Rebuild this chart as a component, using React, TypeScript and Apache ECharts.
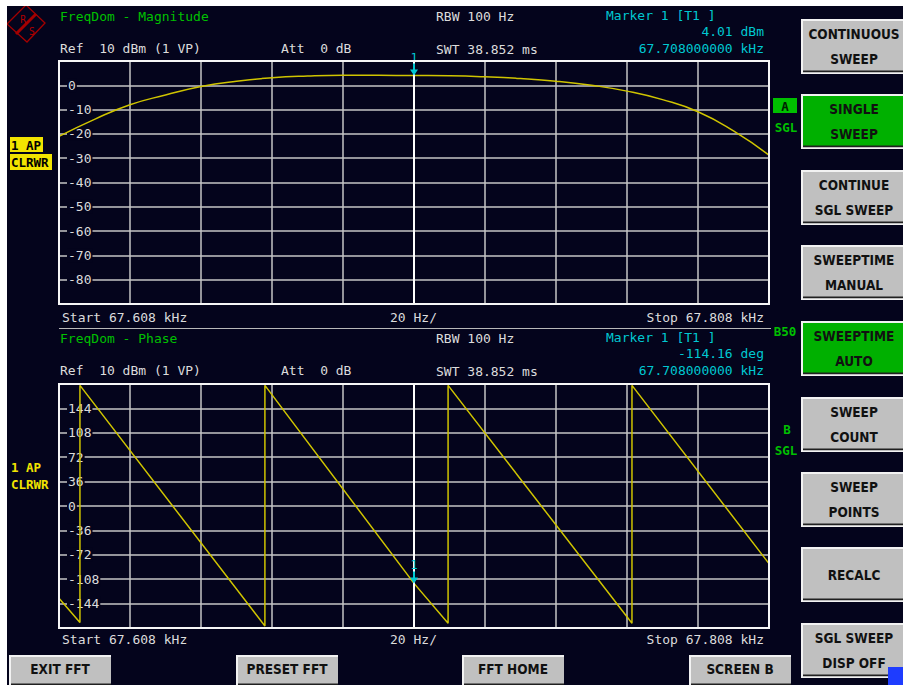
import { useEffect, useRef } from "react";
import * as echarts from "echarts";

// Sweep settings
const START_KHZ = 67.608;
const STOP_KHZ = 67.808;
const SPAN_HZ = 200;
const DIV_HZ = 20;
const MARKER_KHZ = 67.708;
const MARKER_DB = 4.01;
const MARKER_DEG = -114.16;

// Magnitude trace (dBm)
const MAG_FREQ_KHZ = [
  67.608, 67.618, 67.628, 67.638, 67.648, 67.658, 67.668, 67.678, 67.688, 67.698, 67.708,
  67.718, 67.728, 67.738, 67.748, 67.758, 67.768, 67.778, 67.788, 67.798, 67.808,
];
const MAG_DB = [
  -21, -14, -8, -4, -0.5, 1.7, 3.1, 3.8, 4.1, 4.1, 4.01,
  3.9, 3.5, 2.8, 1.7, 0, -2.4, -5.9, -10.9, -18.8, -28.7,
];

// Phase trace (deg), wrapping at +/-180
const PHASE_FREQ_KHZ = [
  67.608, 67.6139, 67.6139, 67.666, 67.666, 67.708, 67.7176, 67.7176, 67.7694, 67.7694, 67.808,
];
const PHASE_DEG = [-136, -172, 178, -177, 178, -114.16, -173, 178, -173, 178, -85];

// Tick labels printed inside the diagrams
const MAG_TICKS = [0, -10, -20, -30, -40, -50, -60, -70, -80];
const PHASE_TICKS = [144, 108, 72, 36, 0, -36, -72, -108, -144];

// Softkeys
const RIGHT_KEYS = [
  { lines: ["CONTINUOUS", "SWEEP"], top: 19, on: false },
  { lines: ["SINGLE", "SWEEP"], top: 94, on: true },
  { lines: ["CONTINUE", "SGL SWEEP"], top: 170, on: false },
  { lines: ["SWEEPTIME", "MANUAL"], top: 245, on: false },
  { lines: ["SWEEPTIME", "AUTO"], top: 321, on: true },
  { lines: ["SWEEP", "COUNT"], top: 397, on: false },
  { lines: ["SWEEP", "POINTS"], top: 472, on: false },
  { lines: ["RECALC"], top: 547, on: false },
  { lines: ["SGL SWEEP", "DISP OFF"], top: 623, on: false },
];
const BOTTOM_KEYS = [
  { label: "EXIT FFT", left: 9 },
  { label: "PRESET FFT", left: 236 },
  { label: "FFT HOME", left: 462 },
  { label: "SCREEN B", left: 689 },
];

const OX = 7;
const OY = 6;
const W = 896;
const H = 679;
const BG = "#04041c";
const GRID = "#c4c4c4";
const TRACE = "#cfc400";
const CYAN = "#00c8d2";
const GREEN = "#00c000";
const LIGHT = "#dcdcdc";
const YELLOW = "#f2e400";
const KEY_GRAY = "#c0c0c0";
const KEY_GREEN = "#00b000";
const MONO = '"DejaVu Sans Mono", "Liberation Mono", monospace';
const SANS = '"DejaVu Sans Condensed", "DejaVu Sans", sans-serif';

const toHz = (khz: number) => Math.round((khz - START_KHZ) * 1e6) / 1000;

function txt(
  x: number,
  y: number,
  text: string,
  fill: string,
  opt: { size?: number; weight?: string; family?: string; align?: string } = {}
) {
  return {
    type: "text",
    x: x - OX,
    y: y - OY,
    z: 60,
    silent: true,
    style: {
      text,
      fill,
      font: `${opt.weight || "normal"} ${opt.size || 13}px ${opt.family || MONO}`,
      textAlign: opt.align || "left",
      textVerticalAlign: "middle",
    },
  };
}

function key(x: number, y: number, w: number, h: number, lines: string[], fill: string, lineOffsets: number[], textX: number) {
  const children: any[] = [
    { type: "rect", shape: { x: 0, y: 0, width: w, height: h }, style: { fill: "#f2f2f2" } },
    { type: "rect", shape: { x: 2, y: 2, width: w - 2, height: h - 5 }, style: { fill } },
    { type: "rect", shape: { x: 2, y: h - 3.5, width: w - 2, height: 1.8 }, style: { fill: "#202020" } },
  ];
  lines.forEach((l, i) => {
    children.push({
      type: "text",
      x: textX,
      y: lineOffsets[i],
      style: {
        text: l,
        fill: "#111111",
        font: `bold 13.5px ${SANS}`,
        textAlign: "center",
        textVerticalAlign: "middle",
      },
    });
  });
  return { type: "group", x: x - OX, y: y - OY, z: 60, silent: true, children };
}

function headerTexts(y0: number, title: string, markerValue: string) {
  return [
    txt(60, y0, title, GREEN),
    txt(436, y0, "RBW 100 Hz", LIGHT),
    txt(606, y0 - 1, "Marker 1 [T1 ]", CYAN),
    txt(764, y0 + 15, markerValue, CYAN, { align: "right" }),
    txt(60, y0 + 32, "Ref  10 dBm (1 VP)", LIGHT),
    txt(281, y0 + 32, "Att  0 dB", LIGHT),
    txt(436, y0 + 33, "SWT 38.852 ms", LIGHT),
    txt(764, y0 + 32, `${MARKER_KHZ.toFixed(9)} kHz`, CYAN, { align: "right" }),
  ];
}

function footerTexts(y: number) {
  return [
    txt(62, y, `Start ${START_KHZ.toFixed(3)} kHz`, LIGHT),
    txt(390, y, `${DIV_HZ} Hz/`, LIGHT),
    txt(764, y, `Stop ${STOP_KHZ.toFixed(3)} kHz`, LIGHT, { align: "right" }),
  ];
}

const ARROW = "path://M3,0 L5,0 L5,6 L8,6 L4,12 L0,6 L3,6 Z";

function markerPoint(value: number) {
  return {
    silent: true,
    symbol: ARROW,
    symbolSize: [8, 12],
    symbolOffset: [0, "-50%"],
    itemStyle: { color: CYAN },
    label: {
      show: true,
      formatter: "1",
      position: "top",
      distance: 0,
      color: CYAN,
      fontFamily: MONO,
      fontSize: 12,
    },
    data: [{ coord: [toHz(MARKER_KHZ), value] }],
  };
}

const centerLine = {
  silent: true,
  symbol: "none",
  label: { show: false },
  lineStyle: { color: "#ffffff", width: 2, type: "solid" },
  data: [{ xAxis: toHz(MARKER_KHZ) }],
};

function yAxisFor(gridIndex: number, min: number, max: number, interval: number, ticks: number[]) {
  return {
    type: "value",
    gridIndex,
    min,
    max,
    interval,
    axisLine: { show: false },
    axisTick: { show: false },
    splitLine: { show: true, lineStyle: { color: GRID, width: 1.5 } },
    axisLabel: {
      inside: true,
      margin: 8,
      color: LIGHT,
      fontFamily: MONO,
      fontSize: 13,
      backgroundColor: BG,
      padding: [1, 1, 0, 1],
      formatter: (v: number) => (ticks.includes(v) ? String(v) : ""),
    },
  };
}

function xAxisFor(gridIndex: number) {
  return {
    type: "value",
    gridIndex,
    min: 0,
    max: SPAN_HZ,
    interval: DIV_HZ,
    axisLine: { show: false },
    axisTick: { show: false },
    axisLabel: { show: false },
    splitLine: { show: true, lineStyle: { color: GRID, width: 1.5 } },
  };
}

const GRID1 = { left: 59, top: 61, width: 710, height: 243 };
const GRID2 = { left: 59, top: 384, width: 710, height: 244 };

export default function App() {
  const ref = useRef<HTMLDivElement>(null);

  useEffect(() => {
    if (!ref.current) return;
    const chart = echarts.init(ref.current, undefined, { renderer: "svg" });

    const magData = MAG_FREQ_KHZ.map((f, i) => [toHz(f), MAG_DB[i]]);
    const phaseData = PHASE_FREQ_KHZ.map((f, i) => [toHz(f), PHASE_DEG[i]]);

    const graphics: any[] = [
      // R&S logo
      {
        type: "polygon",
        z: 60,
        silent: true,
        shape: { points: [[26 - OX, 5 - OY], [45 - OX, 23 - OY], [27 - OX, 42 - OY], [7 - OX, 24 - OY]] },
        style: { fill: "transparent", stroke: "#a40000", lineWidth: 1.3 },
      },
      {
        type: "line",
        z: 60,
        silent: true,
        shape: { x1: 16 - OX, y1: 34 - OY, x2: 36 - OX, y2: 14 - OY },
        style: { stroke: "#a40000", lineWidth: 3 },
      },
      txt(20, 19, "R", "#b00000", { size: 10, family: SANS }),
      txt(29, 31, "S", "#b00000", { size: 10, family: SANS }),

      ...headerTexts(16, "FreqDom - Magnitude", `${MARKER_DB.toFixed(2)} dBm`),
      ...footerTexts(317),
      {
        type: "line",
        z: 60,
        silent: true,
        shape: { x1: 59 - OX, y1: 328.5 - OY, x2: 771 - OX, y2: 328.5 - OY },
        style: { stroke: "#b8b8b8", lineWidth: 1 },
      },
      ...headerTexts(338, "FreqDom - Phase", `${MARKER_DEG.toFixed(2)} deg`),
      ...footerTexts(639),

      // diagram frames
      {
        type: "rect",
        z: 55,
        silent: true,
        shape: { x: GRID1.left - OX, y: GRID1.top - OY, width: GRID1.width, height: GRID1.height },
        style: { fill: "transparent", stroke: "#f6f6f6", lineWidth: 2 },
      },
      {
        type: "rect",
        z: 55,
        silent: true,
        shape: { x: GRID2.left - OX, y: GRID2.top - OY, width: GRID2.width, height: GRID2.height },
        style: { fill: "transparent", stroke: "#f6f6f6", lineWidth: 2 },
      },

      // trace info, left
      {
        type: "rect",
        z: 58,
        silent: true,
        shape: { x: 10 - OX, y: 137 - OY, width: 33, height: 15 },
        style: { fill: YELLOW },
      },
      {
        type: "rect",
        z: 58,
        silent: true,
        shape: { x: 10 - OX, y: 154 - OY, width: 42, height: 16 },
        style: { fill: YELLOW },
      },
      txt(11, 145, "1 AP", "#000000", { size: 12.5, weight: "bold" }),
      txt(11, 162, "CLRWR", "#000000", { size: 12.5, weight: "bold" }),
      txt(11, 467, "1 AP", YELLOW, { size: 12.5, weight: "bold" }),
      txt(11, 484, "CLRWR", YELLOW, { size: 12.5, weight: "bold" }),

      // screen status, right
      {
        type: "rect",
        z: 58,
        silent: true,
        shape: { x: 773 - OX, y: 98 - OY, width: 24, height: 15 },
        style: { fill: GREEN },
      },
      txt(785, 106, "A", "#002000", { size: 12.5, weight: "bold", align: "center" }),
      txt(786, 127, "SGL", GREEN, { size: 12.5, weight: "bold", align: "center" }),
      txt(785, 331, "B50", GREEN, { size: 12.5, weight: "bold", align: "center" }),
      txt(787, 429, "B", GREEN, { size: 12.5, weight: "bold", align: "center" }),
      txt(786, 450, "SGL", GREEN, { size: 12.5, weight: "bold", align: "center" }),
    ];

    RIGHT_KEYS.forEach((k) => {
      const offs = k.lines.length === 1 ? [28] : [15, 40];
      graphics.push(key(801, k.top, 102, 55, k.lines, k.on ? KEY_GREEN : KEY_GRAY, offs, 53));
    });
    BOTTOM_KEYS.forEach((k) => {
      graphics.push(key(k.left, 655, 102, 32, [k.label], KEY_GRAY, [14], 51));
    });
    graphics.push({
      type: "rect",
      z: 70,
      silent: true,
      shape: { x: 888 - OX, y: 667 - OY, width: 15, height: 18 },
      style: { fill: "#1e3cff" },
    });
    graphics.push(txt(897, 678, "→", "#d0d8ff", { size: 10, family: SANS, align: "center" }));

    chart.setOption({
      animation: false,
      backgroundColor: BG,
      grid: [
        { left: GRID1.left - OX, top: GRID1.top - OY, width: GRID1.width, height: GRID1.height, show: false },
        { left: GRID2.left - OX, top: GRID2.top - OY, width: GRID2.width, height: GRID2.height, show: false },
      ],
      xAxis: [xAxisFor(0), xAxisFor(1)],
      yAxis: [yAxisFor(0, -90, 10, 10, MAG_TICKS), yAxisFor(1, -180, 180, 36, PHASE_TICKS)],
      series: [
        {
          name: "Magnitude",
          type: "line",
          xAxisIndex: 0,
          yAxisIndex: 0,
          data: magData,
          showSymbol: false,
          smooth: 0.5,
          silent: true,
          lineStyle: { color: TRACE, width: 1.5 },
          markLine: centerLine,
          markPoint: markerPoint(MARKER_DB),
        },
        {
          name: "Phase",
          type: "line",
          xAxisIndex: 1,
          yAxisIndex: 1,
          data: phaseData,
          showSymbol: false,
          silent: true,
          lineStyle: { color: TRACE, width: 1.5 },
          markLine: centerLine,
          markPoint: markerPoint(MARKER_DEG),
        },
      ],
      graphic: graphics,
    });

    return () => chart.dispose();
  }, []);

  return (
    <div
      ref={ref}
      style={{ position: "fixed", left: OX, top: OY, width: W, height: H }}
    />
  );
}
